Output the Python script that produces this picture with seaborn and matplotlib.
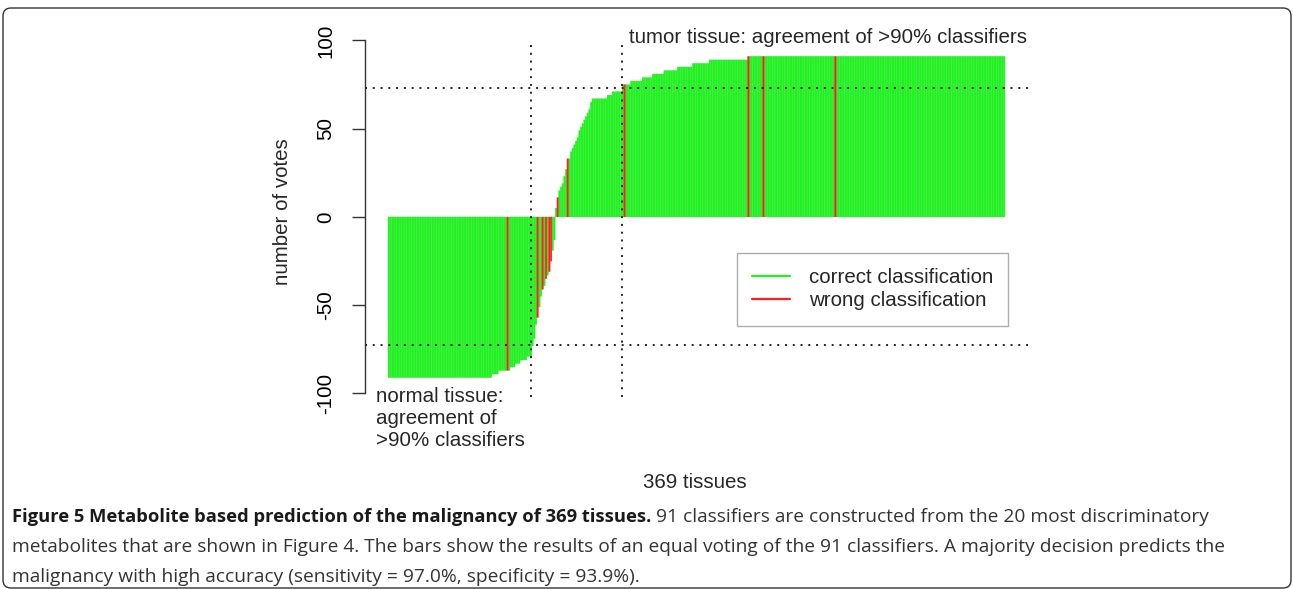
import numpy as np
import pandas as pd
import matplotlib
matplotlib.use('Agg')
import matplotlib.pyplot as plt
import seaborn as sns
from matplotlib.lines import Line2D
from matplotlib.patches import FancyBboxPatch
from matplotlib.transforms import IdentityTransform

# votes of the 91 classifiers per tissue (sorted), stored as runs of equal votes
vote_levels = [-91, -89, -87, -85, -83, -81, -79, -73, -69, -61, -57, -51, -45, -41,
               -39, -35, -33, -31, -25, -19, -13,
               5, 11, 15, 17, 19, 23, 27, 33, 37, 39, 41, 43, 45, 49, 51, 53, 55, 57,
               59, 61, 65, 67, 69, 71, 75, 77, 79, 81, 83, 85, 87, 89, 91]
level_counts = [62, 4, 7, 3, 3, 4, 3, 1, 1, 1, 1, 1, 1, 1,
                1, 1, 1, 1, 1, 1, 1,
                1, 1, 1, 1, 1, 1, 1, 2, 1, 1, 1, 1, 1, 1, 1, 1, 1, 1,
                1, 1, 1, 9, 3, 6, 5, 7, 6, 7, 8, 9, 10, 23, 154]
# tissues (position in sorted order) that were misclassified
wrong_idx = [71, 89, 92, 94, 96, 97, 101, 107, 141, 215, 224, 267]

status_names = ['correct classification', 'wrong classification']
correct_col = '#22f022'
wrong_col = '#ff1f1f'
vote_cut = 72.8          # 90% agreement of 91 classifiers
cut_positions = [85.0, 139.45]

sns.set_theme(style='white')
plt.rcParams['font.family'] = ['Liberation Sans', 'DejaVu Sans']
plt.rcParams['axes.unicode_minus'] = False
FS = 14.8

votes = np.repeat(vote_levels, level_counts)
df = pd.DataFrame({'tissue': np.arange(len(votes)), 'votes': votes})
df['status'] = np.where(df['tissue'].isin(wrong_idx), 'wrong', 'correct')

W, H = 1293, 589
fig = plt.figure(figsize=(W / 100, H / 100), dpi=100)
ax = fig.add_axes([365 / W, 1 - 397 / H, 665 / W, 358.3 / H])

sns.barplot(data=df, x='tissue', y='votes', hue='status',
            order=list(df['tissue']), hue_order=['correct', 'wrong'],
            palette={'correct': correct_col, 'wrong': wrong_col},
            saturation=1, dodge=False, width=1.0, linewidth=0, errorbar=None,
            legend=False, ax=ax)
for p in ax.patches:
    p.set_snap(False)
    p.set_edgecolor(p.get_facecolor())
    p.set_linewidth(0.2)
    if p.get_facecolor()[0] > 0.9:      # misclassified bars on top
        p.set_zorder(3)

ax.set_xlim(-14.26, 383.45)
ax.set_ylim(-102, 101)

for c in (vote_cut, -vote_cut):
    ax.axhline(c, color='#222222', ls=(0, (1, 3)), lw=1.4, zorder=4)
ax.vlines(cut_positions, -102, 99.2, color='#222222', ls=(0, (1, 3)), lw=1.4, zorder=4)

for s in ('top', 'right', 'bottom'):
    ax.spines[s].set_visible(False)
ax.spines['left'].set_bounds(-100, 100)
ax.spines['left'].set_color('#333333')
ax.spines['left'].set_linewidth(1.0)
ax.set_xticks([])
ax.set_yticks([-100, -50, 0, 50, 100])
ax.tick_params(axis='y', left=True, length=9.5, width=1.0, color='#333333',
               labelsize=FS, pad=12, labelrotation=90, labelcolor='black')
for lab in ax.get_yticklabels():
    lab.set_va('center')
ax.set_xlabel('')
ax.set_ylabel('')

ax.text(143.6, 101.4, 'tumor tissue: agreement of >90% classifiers',
        ha='left', va='center', fontsize=FS, clip_on=False)
ax.text(-7.7, -113.9, 'normal tissue:\nagreement of\n>90% classifiers',
        ha='left', va='center', fontsize=FS, linespacing=1.2, clip_on=False)

fig.text(283 / W, 1 - 212 / H, 'number of votes', rotation=90,
         ha='center', va='center', fontsize=FS)
fig.text(695 / W, 1 - 483 / H, '369 tissues', ha='center', va='center', fontsize=FS)

handles = [Line2D([], [], color=correct_col, lw=1.6),
           Line2D([], [], color=wrong_col, lw=1.6)]
leg = ax.legend(handles, status_names, loc='upper left',
                bbox_to_anchor=(0.559, 0.402), borderaxespad=0, frameon=True,
                fancybox=False, edgecolor='#999999', fontsize=FS,
                handlelength=1.85, handletextpad=0.9, borderpad=0.75,
                labelspacing=0.2)
leg.get_frame().set_linewidth(1.0)
leg.set_zorder(5)

# caption
cap_font = ['Open Sans', 'DejaVu Sans']
bold = fig.text(12 / W, 1 - 522.5 / H,
                'Figure 5 Metabolite based prediction of the malignancy of 369 tissues.',
                family=cap_font, fontsize=13.2, fontweight='bold', color='#1a1a1a',
                va='baseline')
fig.canvas.draw()
bb = bold.get_window_extent()
cap_kw = dict(family=cap_font, fontsize=13.8, color='#333333', va='baseline')
fig.text(bb.x1 / W, 1 - 522.5 / H,
         ' 91 classifiers are constructed from the 20 most discriminatory', **cap_kw)
fig.text(12 / W, 1 - 552 / H,
         'metabolites that are shown in Figure 4. The bars show the results of an equal '
         'voting of the 91 classifiers. A majority decision predicts the', **cap_kw)
fig.text(12 / W, 1 - 581.5 / H,
         'malignancy with high accuracy (sensitivity = 97.0%, specificity = 93.9%).',
         **cap_kw)

border = FancyBboxPatch((3, 1), 1288, 580, boxstyle='round,pad=0,rounding_size=8',
                        transform=IdentityTransform(), fill=False,
                        edgecolor='#333333', linewidth=1.0)
fig.add_artist(border)

fig.savefig('out.png', dpi=100)
